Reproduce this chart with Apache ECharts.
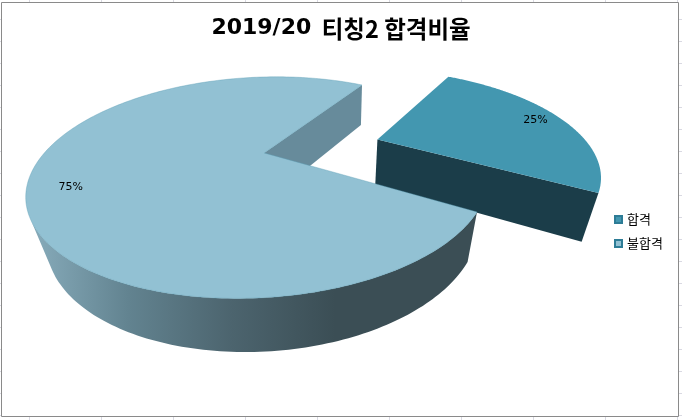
<!DOCTYPE html>
<html><head><meta charset="utf-8">
<style>html,body{margin:0;padding:0;background:#fff}#c{width:682px;height:420px}</style>
<script src="https://cdn.jsdelivr.net/npm/echarts@6/dist/echarts.min.js"></script>
</head><body><div id="c"></div>
<script>
const categories = ['합격', '불합격'];
const passValues = [25];
const failValues = [75];
const titleLatin = '2019/20';
const titleKorean = '티칭2 합격비율';

// Perspective of the pie disc: where four disc points land on the page
const rimAnchors = [[477,212],[362,85],[107.5,109.5],[92.5,272]];
const vanish = [339,946];
const depth = 0.062;
const explode = 0.55;

function solve(A,b){const n=b.length;A=A.map((r,i)=>[...r,b[i]]);
 for(let i=0;i<n;i++){let p=i;for(let k=i+1;k<n;k++)if(Math.abs(A[k][i])>Math.abs(A[p][i]))p=k;
  [A[i],A[p]]=[A[p],A[i]];
  for(let k=0;k<n;k++){if(k===i)continue;const f=A[k][i]/A[i][i];for(let j=i;j<=n;j++)A[k][j]-=f*A[i][j];}}
 return A.map((r,i)=>r[n]/r[i]);}
const src=[[1,0],[0,1],[-1,0],[0,-1]];
const M=[],R=[];
src.forEach((s,i)=>{const [x,y]=s,[X,Y]=rimAnchors[i];
 M.push([x,y,1,0,0,0,-x*X,-y*X]);R.push(X);
 M.push([0,0,0,x,y,1,-x*Y,-y*Y]);R.push(Y);});
const h=solve(M,R);
function proj(x,y,d){
 const w=h[6]*x+h[7]*y+1, X=h[0]*x+h[1]*y+h[2], Y=h[3]*x+h[4]*y+h[5];
 const W=w+d; return [(X+d*vanish[0])/W,(Y+d*vanish[1])/W];}
const total=passValues[0]+failValues[0];
const TAU=Math.PI*2;
function arc(a0,a1,ox,oy,d){const pts=[];const n=240;
 for(let i=0;i<=n;i++){const t=a0+(a1-a0)*i/n;pts.push(proj(ox+Math.cos(t),oy+Math.sin(t),d));}
 return pts;}
function poly(points,fill,stroke,z2){return {type:'polygon',shape:{points},z2:z2||0,
 style:{fill,stroke:stroke||null,lineWidth:stroke?0.4:0}};}
function label(text,p){return {type:'text',z2:10,x:p[0],y:p[1],style:{text,fill:'#000',
 font:'11px "DejaVu Sans"',align:'center',verticalAlign:'middle'}};}
// Outer wall: only the part of the rim that faces the viewer, as one simple strip
function wall(top,bot,fill){
 let first=-1,last=-1;
 for(let i=0;i<top.length-1;i++){
  const dx=top[i+1][0]-top[i][0],dy=top[i+1][1]-top[i][1];
  const Dx=bot[i][0]-top[i][0],Dy=bot[i][1]-top[i][1];
  if(dx*Dy-dy*Dx>0){if(first<0)first=i;last=i+1;}
 }
 if(first<0)return [];
 const t=top.slice(first,last+1),b=bot.slice(first,last+1).reverse();
 return [poly([...t,...b],fill)];}

const sideGrad=new echarts.graphic.LinearGradient(40,0,335,0,[
 {offset:0,color:'#84a8b7'},{offset:.3,color:'#628390'},{offset:.65,color:'#4c646e'},{offset:1,color:'#3b4e55'}],true);

function renderPass(params,api){
 const v=api.value(0), a1=v/total*TAU, mid=a1/2;
 const ox=explode*Math.cos(mid), oy=explode*Math.sin(mid);
 const topRim=arc(0,a1,ox,oy,0), botRim=arc(0,a1,ox,oy,depth);
 const apex=proj(ox,oy,0), apexB=proj(ox,oy,depth);
 return {type:'group',children:[
  ...wall(topRim,botRim,'#1b3d49'),
  poly([apex,topRim[0],botRim[0],apexB],'#1b3d49'),
  poly([apex,...topRim],'#4397b0',null,2),
  label(Math.round(v/total*100)+'%',proj(ox+.86*Math.cos(mid),oy+.86*Math.sin(mid),0))
 ]};
}
function renderFail(params,api){
 const v=api.value(0), a0=passValues[0]/total*TAU, a1=a0+v/total*TAU, mid=(a0+a1)/2+0.12;
 const topRim=arc(a0,a1,0,0,0), botRim=arc(a0,a1,0,0,depth);
 const apex=proj(0,0,0), apexB=proj(0,0,depth);
 return {type:'group',children:[
  ...wall(topRim,botRim,sideGrad),
  poly([apex,topRim[0],botRim[0],apexB],'#678b9b'),
  poly([apex,...topRim],'#92c1d3','#5d9fb5',2),
  label(Math.round(v/total*100)+'%',proj(.83*Math.cos(mid),.83*Math.sin(mid),0))
 ]};
}

// Spreadsheet gridline stubs around the chart frame
const stubs=[];
for(let x=29.5;x<682;x+=72)stubs.push([x,0,x,2],[x,417,x,420]);
for(let y=19.5;y<420;y+=22)stubs.push([0,y,1,y],[679,y,682,y]);

const chart=echarts.init(document.getElementById('c'),null,{renderer:'canvas'});
chart.setOption({
 animation:false,backgroundColor:'#fff',
 title:{text:'{a|'+titleLatin+'}  {b|'+titleKorean+'}',left:'center',top:12,itemGap:0,
  textStyle:{fontSize:23,fontWeight:'bold',color:'#000',fontFamily:'"Noto Sans CJK KR"',
   rich:{a:{fontFamily:'"DejaVu Sans"',fontSize:22,fontWeight:'bold',color:'#000'},
         b:{fontFamily:'"Noto Sans CJK KR"',fontSize:23.5,fontWeight:'bold',color:'#000'}}}},
 legend:{orient:'vertical',left:614,top:212,padding:0,itemWidth:7,itemHeight:7,itemGap:9,icon:'rect',
  data:categories,selectedMode:false,
  textStyle:{fontFamily:'"Noto Sans CJK KR"',fontSize:13,lineHeight:15,color:'#000',padding:[0,0,0,0]}},
 graphic:[
  {type:'rect',shape:{x:1.5,y:2.5,width:677,height:414},style:{fill:null,stroke:'#8a8a8a',lineWidth:1},silent:true},
  ...stubs.map(s=>({type:'line',shape:{x1:s[0],y1:s[1],x2:s[2],y2:s[3]},style:{stroke:'#d9d9e2',lineWidth:1},silent:true}))
 ],
 series:[
  {type:'custom',name:categories[0],coordinateSystem:'none',data:passValues,renderItem:renderPass,silent:true,
   itemStyle:{color:'#4397b0',borderColor:'#2d7c96',borderWidth:1}},
  {type:'custom',name:categories[1],coordinateSystem:'none',data:failValues,renderItem:renderFail,silent:true,
   itemStyle:{color:'#92c1d3',borderColor:'#2d7c96',borderWidth:1}}
 ]
});
</script></body></html>
